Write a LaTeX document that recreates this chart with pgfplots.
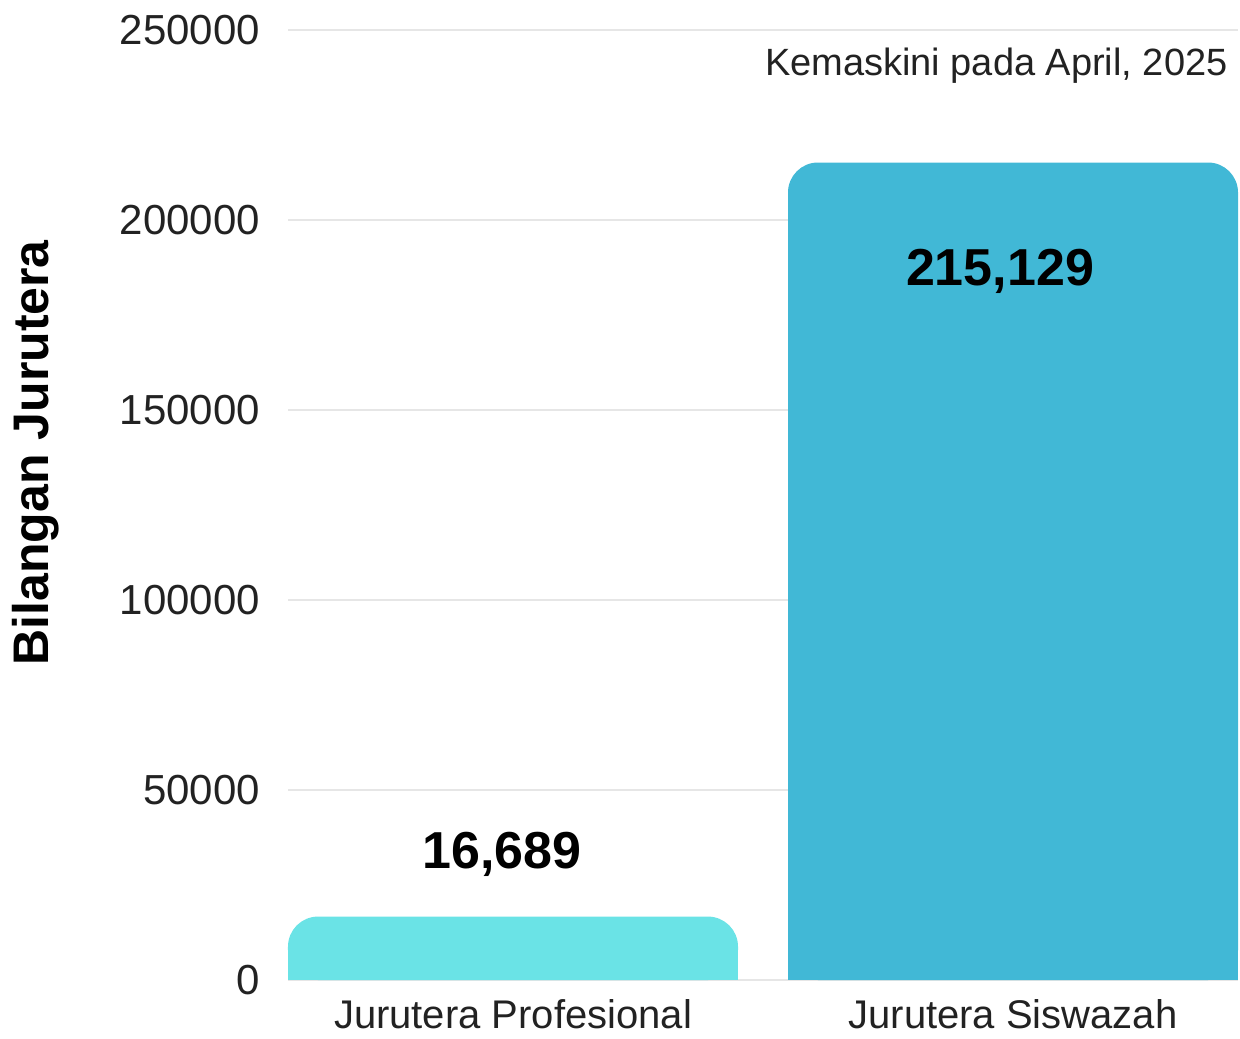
\documentclass[border=0pt]{standalone}
\usepackage{pgfplots}
\pgfplotsset{compat=1.18}
\usepackage{fontspec}
\setmainfont{Liberation Sans}
\definecolor{barA}{HTML}{6AE3E6}
\definecolor{barB}{HTML}{41B8D6}
\definecolor{gridc}{HTML}{E6E6E6}
\definecolor{txt}{HTML}{222222}
\begin{document}
\begin{tikzpicture}
\begin{axis}[
  scale only axis, width=475pt, height=475pt,
  xmin=-0.45, xmax=1.45, ymin=0, ymax=250000,
  xtick={0,1}, xticklabels={Jurutera Profesional, Jurutera Siswazah},
  ytick={0,50000,100000,150000,200000,250000},
  scaled y ticks=false,
  /pgf/number format/.cd, fixed, 1000 sep={}, assume math mode=true, /pgfplots/.cd,
  ymajorgrids, grid style={gridc, line width=0.9pt},
  axis line style={draw=none}, major tick length=0pt,
  tick label style={text=txt},
  xticklabel style={font=\fontsize{20}{24}\selectfont, yshift=-6pt},
  yticklabel style={font=\fontsize{21}{25}\selectfont, xshift=-10.5pt},
  ylabel={Bilangan Jurutera},
  ylabel style={font=\bfseries\fontsize{25}{30}\selectfont, at={(rel axis cs:0,0.555)}, anchor=center, yshift=126pt, xshift=0pt},
]
\addplot[ybar, bar width=225pt, bar shift=0pt, fill=barA, draw=none, rounded corners=15pt,
  nodes near coords={\pgfmathprintnumber[1000 sep={,}]{\pgfplotspointmeta}},
  every node near coord/.append style={font=\bfseries\fontsize{26}{30}\selectfont, text=black, inner sep=0pt, anchor=south, yshift=19.7pt, xshift=-5.5pt}]
  coordinates {(0,16689)};
\addplot[ybar, bar width=225pt, bar shift=0pt, fill=barA, draw=none, y filter/.expression={y*0.5}]
  coordinates {(0,16689)};
\addplot[ybar, bar width=225pt, bar shift=0pt, fill=barB, draw=none, y filter/.expression={y*0.5}]
  coordinates {(1,215129)};
\addplot[ybar, bar width=225pt, bar shift=0pt, fill=barB, draw=none, rounded corners=15pt,
  nodes near coords={\pgfmathprintnumber[1000 sep={,}]{\pgfplotspointmeta}},
  every node near coord/.append style={font=\bfseries\fontsize{26}{30}\selectfont, text=black, inner sep=0pt, anchor=south, yshift=-65.8pt, xshift=-6.5pt}]
  coordinates {(1,215129)};
\node[anchor=base east, font=\fontsize{19}{23}\selectfont, text=txt, inner sep=0pt] at (rel axis cs:1,0.9526) [xshift=-5pt] {Kemaskini pada April, 2025};
\end{axis}
\path (current axis.south west) ++(-144pt,-29pt) (current axis.north east) ++(1pt,15pt);
\end{tikzpicture}
\end{document}
